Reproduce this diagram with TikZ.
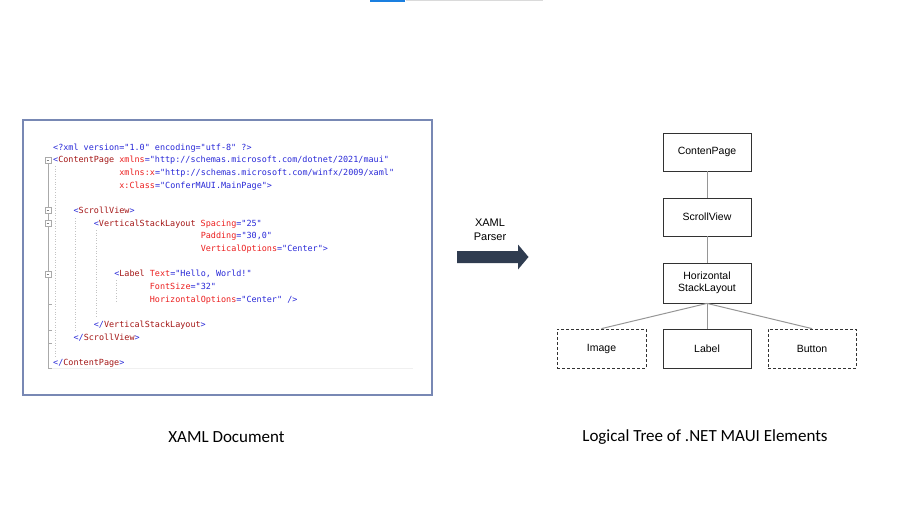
\documentclass[tikz,border=0pt]{standalone}
\usepackage{fontspec}
\setmainfont{Liberation Sans}
\newfontfamily\codefont{DejaVu Sans Mono}
\newfontfamily\capfont{Carlito}
\definecolor{xblue}{RGB}{40,40,215}
\definecolor{xbrown}{RGB}{163,21,21}
\definecolor{xred}{RGB}{235,30,30}
\definecolor{codeborder}{RGB}{120,136,180}
\definecolor{boxline}{RGB}{50,50,50}
\definecolor{connline}{RGB}{150,150,150}
\definecolor{arrowfill}{RGB}{47,60,80}
\definecolor{gutter}{RGB}{170,170,170}
\definecolor{guide}{RGB}{195,195,195}
\newcommand\xmlB[1]{\textcolor{xblue}{#1}}
\newcommand\xmlN[1]{\textcolor{xbrown}{#1}}
\newcommand\xmlA[1]{\textcolor{xred}{#1}}
\tikzset{
  codeline/.style={anchor=base west, inner sep=0pt, font=\codefont\fontsize{8.45}{10}\selectfont},
  tbox/.style={draw=boxline, line width=0.8pt, minimum width=88pt, minimum height=38pt, inner sep=0pt, align=center, font=\fontsize{10.5}{12.5}\selectfont},
  dbox/.style={tbox, dash pattern=on 3pt off 2pt},
  conn/.style={draw=connline, line width=1pt},
  caption/.style={font=\capfont\fontsize{17}{20}\selectfont, inner sep=0pt},
  foldbox/.style={draw=gutter, fill=white, line width=0.6pt},
  guideline/.style={draw=guide, line width=0.7pt, dash pattern=on 1pt off 1.6pt},
}
\begin{document}
\begin{tikzpicture}[x=1pt,y=-1pt]
\useasboundingbox (0,0) rectangle (915,516);
% top bar
\fill[color={rgb,255:red,26;green,127;blue,224}] (370,0) rectangle (405,2);
\fill[color={rgb,255:red,218;green,218;blue,218}] (406,0) rectangle (543,1.3);
% code box
\node[draw=codeborder, line width=1.8pt, minimum width=409pt, minimum height=275pt, inner sep=0pt] (codebox) at (227.5,257.5) {};
% gutter
\draw[draw=gutter, line width=0.9pt] (48,163) -- (48,368) -- (52,368);
\draw[draw=gutter, line width=0.9pt] (48,304.5) -- (51.5,304.5);
\draw[draw=gutter, line width=0.9pt] (48,330.5) -- (51.5,330.5);
\draw[draw=gutter, line width=0.9pt] (48,343) -- (51.5,343);
\draw[draw=black!6, line width=0.6pt] (52,368) -- (413,368);
\foreach \yy in {160,210.7,223.3,273.8}{
  \draw[foldbox] (45,\yy-3) rectangle (51,\yy+3);
  \draw[draw=gray, line width=0.6pt] (46.6,\yy) -- (49.4,\yy);
}
\draw[guideline] (55.5,166) -- (55.5,356);
\draw[guideline] (75.7,218) -- (75.7,330);
\draw[guideline] (96,230) -- (96,318);
\draw[guideline] (116.7,280) -- (116.7,303);
% code lines
\node[codeline] (l1) at (53,150.3) {\xmlB{<?xml version="1.0" encoding="utf-8" ?>}};
\node[codeline] (l2) at (53,162.9) {\xmlB{<}\xmlN{ContentPage} \xmlA{xmlns}\xmlB{="http://schemas.microsoft.com/dotnet/2021/maui"}};
\node[codeline] (l3) at (119.2,175.6) {\xmlA{xmlns:x}\xmlB{="http://schemas.microsoft.com/winfx/2009/xaml"}};
\node[codeline] (l4) at (119.2,188.2) {\xmlA{x:Class}\xmlB{="ConferMAUI.MainPage">}};
\node[codeline] (l6) at (73.4,213.5) {\xmlB{<}\xmlN{ScrollView}\xmlB{>}};
\node[codeline] (l7) at (93.7,226.2) {\xmlB{<}\xmlN{VerticalStackLayout} \xmlA{Spacing}\xmlB{="25"}};
\node[codeline] (l8) at (200.6,238.8) {\xmlA{Padding}\xmlB{="30,0"}};
\node[codeline] (l9) at (200.6,251.5) {\xmlA{VerticalOptions}\xmlB{="Center">}};
\node[codeline] (l11) at (114.1,276.8) {\xmlB{<}\xmlN{Label} \xmlA{Text}\xmlB{="Hello, World!"}};
\node[codeline] (l12) at (149.7,289.4) {\xmlA{FontSize}\xmlB{="32"}};
\node[codeline] (l13) at (149.7,302.1) {\xmlA{HorizontalOptions}\xmlB{="Center" />}};
\node[codeline] (l15) at (93.7,327.4) {\xmlB{</}\xmlN{VerticalStackLayout}\xmlB{>}};
\node[codeline] (l16) at (73.4,340.0) {\xmlB{</}\xmlN{ScrollView}\xmlB{>}};
\node[codeline] (l18) at (53,365.3) {\xmlB{</}\xmlN{ContentPage}\xmlB{>}};
% parser arrow
\fill[arrowfill] (457,251) -- (518,251) -- (518,244.5) -- (528.5,257) -- (518,269.5) -- (518,263) -- (457,263) -- cycle;
\node[align=center, inner sep=0pt, font=\fontsize{11}{14}\selectfont] (parser) at (490,230) {XAML\\Parser};
% tree
\node[tbox] (cp) at (707,152) {ContenPage};
\node[tbox] (sv) at (707,217) {ScrollView};
\node[tbox, minimum height=40pt] (hs) at (707,283) {Horizontal\\StackLayout};
\node[dbox, minimum height=39pt, minimum width=89pt] (img) at (601.5,348.5) {Image};
\node[tbox, minimum height=39pt] (lbl) at (707,348.5) {Label};
\node[dbox, minimum height=39pt] (btn) at (812,348.5) {Button};
\draw[conn] (cp.south) -- (sv.north);
\draw[conn] (sv.south) -- (hs.north);
\draw[conn] (hs.south) -- (img.north);
\draw[conn] (hs.south) -- (lbl.north);
\draw[conn] (hs.south) -- (btn.north);
% captions
\node[caption] (cap1) at (226.5,437) {XAML Document};
\node[caption] (cap2) at (705,437) {Logical Tree of .NET MAUI Elements};
\end{tikzpicture}
\end{document}
